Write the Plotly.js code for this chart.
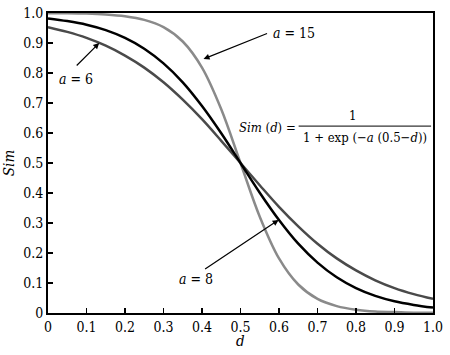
<!DOCTYPE html>
<html>
<head>
<meta charset="utf-8">
<script src="https://cdn.plot.ly/plotly-3.0.1.min.js"></script>
<style>html,body{margin:0;padding:0;background:#fff}#chart{width:450px;height:355px}</style>
</head>
<body>
<div id="chart"></div>
<script>
// Distance values d
const d = [0,0.05,0.1,0.15,0.2,0.25,0.3,0.35,0.4,0.45,0.5,0.55,0.6,0.65,0.7,0.75,0.8,0.85,0.9,0.95,1.0];
// Sim values
const simA6 = [0.953,0.937,0.917,0.891,0.858,0.818,0.769,0.711,0.646,0.574,0.5,0.426,0.354,0.289,0.231,0.182,0.142,0.109,0.083,0.063,0.047];
const simA8 = [0.982,0.973,0.961,0.943,0.917,0.881,0.832,0.769,0.690,0.599,0.5,0.401,0.310,0.231,0.168,0.119,0.083,0.057,0.039,0.027,0.018];
const simA15 = [0.999,0.999,0.998,0.995,0.989,0.977,0.953,0.905,0.818,0.679,0.5,0.321,0.182,0.095,0.047,0.023,0.011,0.005,0.003,0.001,0.001];
const xTicks = [0,0.1,0.2,0.3,0.4,0.5,0.6,0.7,0.8,0.9,1.0];
const xTickText = ['0','0.1','0.2','0.3','0.4','0.5','0.6','0.7','0.8','0.9','1.0'];
const yTicks = [0,0.1,0.2,0.3,0.4,0.5,0.6,0.7,0.8,0.9,1.0];
const yTickText = ['0','0.1','0.2','0.3','0.4','0.5','0.6','0.7','0.8','0.9','1.0'];

const serif = 'DejaVu Serif Condensed';

const traces = [
  {x: d, y: simA6, mode: 'lines', line: {color: '#4a4a4a', width: 2.5, shape: 'spline'}, name: 'a = 6'},
  {x: d, y: simA15, mode: 'lines', line: {color: '#8a8a8a', width: 2.5, shape: 'spline'}, name: 'a = 15'},
  {x: d, y: simA8, mode: 'lines', line: {color: '#000000', width: 2.5, shape: 'spline'}, name: 'a = 8'}
];

const arrowStyle = {showarrow: true, arrowhead: 2, arrowsize: 1, arrowwidth: 1.2, arrowcolor: '#000', text: ''};
const txtFont = {family: serif, size: 14, color: '#000'};

const layout = {
  width: 450, height: 355,
  margin: {l: 48, r: 17, t: 13, b: 42},
  paper_bgcolor: '#fff', plot_bgcolor: '#fff',
  showlegend: false,
  font: {family: serif, size: 14, color: '#000'},
  xaxis: {
    range: [0, 1], tickvals: xTicks, ticktext: xTickText,
    ticks: 'inside', ticklen: 5, tickwidth: 1.5, tickcolor: '#000',
    showline: true, linecolor: '#000', linewidth: 2, mirror: true,
    showgrid: false, zeroline: false,
    tickfont: {family: serif, size: 14, color: '#000'}
  },
  yaxis: {
    range: [0, 1], tickvals: yTicks, ticktext: yTickText,
    ticks: 'inside', ticklen: 5, tickwidth: 1.5, tickcolor: '#000',
    showline: true, linecolor: '#000', linewidth: 2, mirror: true,
    showgrid: false, zeroline: false,
    tickfont: {family: serif, size: 14, color: '#000'},
    title: {text: '<i>Sim</i>', font: {family: serif, size: 15, color: '#000'}, standoff: 6}
  },
  annotations: [
    {xref: 'paper', yref: 'paper', x: 0.5, y: -0.092, xanchor: 'center', yanchor: 'middle', text: '<i>d</i>', showarrow: false, font: {family: serif, size: 15, color: '#000'}},
    Object.assign({x: 0.404, y: 0.847, ax: 65, ay: -26}, arrowStyle),
    {x: 0.638, y: 0.933, text: '<i>a</i> = 15', showarrow: false, font: txtFont},
    Object.assign({x: 0.133, y: 0.9, ax: -24, ay: 24}, arrowStyle),
    {x: 0.073, y: 0.78, text: '<i>a</i> = 6', showarrow: false, font: txtFont},
    Object.assign({x: 0.599, y: 0.31, ax: -75, ay: 50}, arrowStyle),
    {x: 0.385, y: 0.113, text: '<i>a</i> = 8', showarrow: false, font: txtFont},
    {x: 0.65, y: 0.617, xanchor: 'right', yanchor: 'middle', text: '<i>Sim</i> (<i>d</i>) =', showarrow: false, font: {family: serif, size: 13, color: '#000'}},
    {x: 0.792, y: 0.66, yanchor: 'middle', text: '1', showarrow: false, font: {family: serif, size: 13, color: '#000'}},
    {x: 0.823, y: 0.585, yanchor: 'middle', text: '1 + exp (−<i>a</i> (0.5−<i>d</i>))', showarrow: false, font: {family: serif, size: 13, color: '#000'}}
  ],
  shapes: [
    {type: 'line', xref: 'x', yref: 'y', x0: 0.651, x1: 0.995, y0: 0.623, y1: 0.623, line: {color: '#000', width: 1}}
  ]
};

Plotly.newPlot('chart', traces, layout, {staticPlot: true, displayModeBar: false});
</script>
</body>
</html>
